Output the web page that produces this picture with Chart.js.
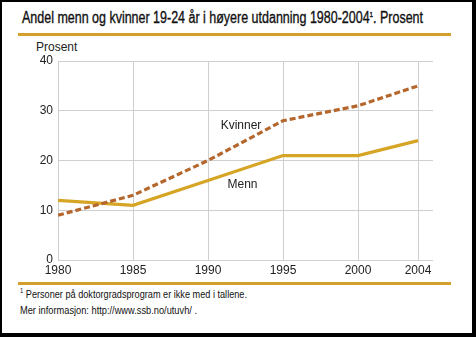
<!DOCTYPE html>
<html>
<head>
<meta charset="utf-8">
<script src="https://cdn.jsdelivr.net/npm/chart.js@4"></script>
<style>
  html, body { margin: 0; padding: 0; background: #000; }
  #frame { position: absolute; left: 2px; top: 2px; width: 470px; height: 331px; background: #fff; overflow: hidden; }
  .txt { position: absolute; font-family: "Liberation Sans Narrow", "Liberation Sans", Arial, sans-serif; color: #111; white-space: nowrap; transform-origin: 0 0; }
  #title { left: 20px; top: 7px; font-size: 16px; -webkit-text-stroke: 0.35px #111; }
  .rule { position: absolute; left: 16px; width: 433px; height: 3px; background: #d4a02c; }
  #prosent { left: 34px; top: 38px; font-size: 12px; color: #222; }
  .foot { font-size: 11px; left: 18px; color: #111; }
  #wrap { position: absolute; left: -2px; top: 34px; width: 476px; height: 240px; }
</style>
</head>
<body>
<div id="frame">
  <div class="txt" id="title">Andel menn og kvinner 19-24 år i høyere utdanning 1980-2004<sup style="font-size:8px">1</sup>. Prosent</div>
  <div class="rule" style="top:31px"></div>
  <div class="txt" id="prosent">Prosent</div>
  <div id="wrap"><canvas id="c"></canvas></div>
  <div class="rule" style="top:280px"></div>
  <div class="txt foot" id="f1" style="top:285px"><sup style="font-size:7px">1</sup> Personer på doktorgradsprogram er ikke med i tallene.</div>
  <div class="txt foot" id="f2" style="top:302px">Mer informasjon: http://www.ssb.no/utuvh/ .</div>
</div>
<script>
const years = [1980, 1985, 1990, 1995, 2000, 2004];
const menn = [12, 11, 16, 21, 21, 24];
const kvinner = [9, 13, 20, 28, 31, 35];
const xTicks = [1980, 1985, 1990, 1995, 2000, 2004];
const yTicks = [0, 10, 20, 30, 40];

// squeeze text to the widths seen in the picture
function fitWidth(id, w) {
  const el = document.getElementById(id);
  const r = el.getBoundingClientRect().width;
  el.style.transform = "scaleX(" + (w / r) + ")";
}
fitWidth("title", 401);
fitWidth("f1", 227);
fitWidth("f2", 177);

const seriesLabels = {
  id: "seriesLabels",
  afterDatasetsDraw(chart) {
    const { ctx, scales } = chart;
    ctx.save();
    ctx.font = "12px 'Liberation Sans', Arial, sans-serif";
    ctx.fillStyle = "#222";
    ctx.textAlign = "center";
    ctx.textBaseline = "middle";
    ctx.fillText("Kvinner", scales.x.getPixelForValue(1992.2), scales.y.getPixelForValue(27));
    ctx.fillText("Menn", scales.x.getPixelForValue(1992.3), scales.y.getPixelForValue(15.2));
    ctx.restore();
  }
};

const ctx = document.getElementById("c").getContext("2d");
new Chart(ctx, {
  type: "line",
  data: {
    datasets: [
      {
        label: "Kvinner",
        data: years.map((y, i) => ({ x: y, y: kvinner[i] })),
        borderColor: "#b5662c",
        borderWidth: 3.2,
        borderDash: [6, 3],
        pointRadius: 0,
        tension: 0,
      },
      {
        label: "Menn",
        data: years.map((y, i) => ({ x: y, y: menn[i] })),
        borderColor: "#d6a526",
        borderWidth: 3.2,
        pointRadius: 0,
        tension: 0,
      },
    ],
  },
  options: {
    responsive: true,
    maintainAspectRatio: false,
    animation: false,
    layout: { padding: { top: 25, right: 43, left: 0, bottom: 0 } },
    plugins: { legend: { display: false }, tooltip: { enabled: false } },
    scales: {
      x: {
        type: "linear",
        min: 1980,
        max: 2005,
        afterBuildTicks: (axis) => { axis.ticks = xTicks.map((v) => ({ value: v })); },
        afterFit: (axis) => { axis.height = 16; },
        grid: { color: "#cfcfcf", lineWidth: 1, drawTicks: false },
        border: { display: false },
        ticks: {
          color: "#222",
          font: { family: "'Liberation Sans', Arial, sans-serif", size: 12 },
          padding: 3,
          maxRotation: 0,
          callback: (v) => String(v),
        },
      },
      y: {
        min: 0,
        max: 40,
        afterBuildTicks: (axis) => { axis.ticks = yTicks.map((v) => ({ value: v })); },
        afterFit: (axis) => { axis.width = 58; },
        grid: { color: "#cfcfcf", lineWidth: 1, drawTicks: false },
        border: { display: false },
        ticks: {
          color: "#222",
          font: { family: "'Liberation Sans', Arial, sans-serif", size: 12 },
          padding: 5,
        },
      },
    },
  },
  plugins: [seriesLabels],
});
</script>
</body>
</html>
